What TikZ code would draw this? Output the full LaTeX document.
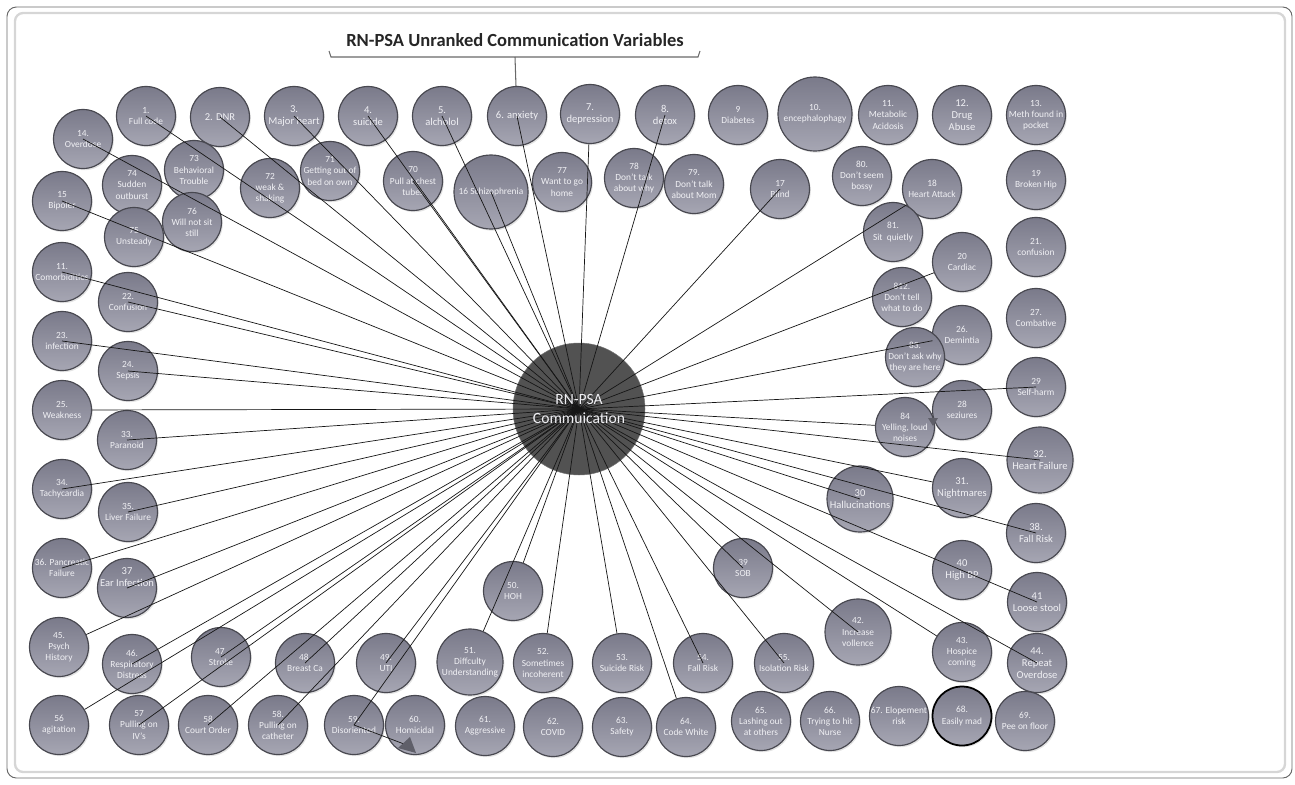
\documentclass[tikz,border=0pt]{standalone}
\usepackage{fontspec}
\setmainfont{Carlito}
\usetikzlibrary{shadows}
\definecolor{bubtop}{RGB}{122,122,138}
\definecolor{bubbot}{RGB}{166,166,179}
\definecolor{bubedge}{RGB}{72,72,80}
\definecolor{hubfill}{RGB}{82,82,82}
\definecolor{spokecol}{RGB}{22,22,22}
\definecolor{bubtext}{RGB}{240,240,244}
\definecolor{framecol}{RGB}{105,105,105}
\definecolor{frameinner}{RGB}{214,214,214}
\definecolor{tricol}{RGB}{95,95,105}
\tikzset{
  bub/.style={circle, draw=bubedge, line width=1pt, top color=bubtop, bottom color=bubbot,
    minimum size=1.77cm, inner sep=0pt,
    drop shadow={shadow xshift=0.04cm, shadow yshift=-0.05cm, opacity=0.22}},
  bubmid/.style={bub, minimum size=1.98cm},
  bubbig/.style={bub, minimum size=2.22cm},
  txt/.style={align=center, text=bubtext, font=\fontsize{8}{9.5}\selectfont, inner sep=0pt},
  txtbig/.style={txt, font=\fontsize{9}{10.5}\selectfont},
  spoke/.style={draw=spokecol, line width=0.6pt},
  hubc/.style={circle, fill=hubfill, draw=hubfill!80!white, minimum size=3.96cm, inner sep=0pt},
  hubtxt/.style={align=center, text=bubtext, font=\fontsize{13.3}{15.5}\selectfont, inner sep=0pt},
  ttl/.style={font=\fontsize{15.8}{18}\selectfont\bfseries, text=black!85, inner sep=0pt},
  brk/.style={draw=framecol, line width=0.9pt}
}
\begin{document}
\begin{tikzpicture}[x=0.03cm, y=-0.03cm]
\useasboundingbox (0,0) rectangle (1295,784);
{
% frame
\draw[framecol, line width=0.8pt, rounded corners=8] (7,7) rectangle (1292,778);
\draw[frameinner, line width=2pt, rounded corners=7] (15,13) rectangle (1285,772);

% title and bracket
\node[ttl] (title) at (515,40) {RN-PSA Unranked Communication Variables};
\coordinate (titlebar) at (515,57);
\draw[brk] (329,51) -- (331,57) -- (698,57) -- (700,51);

% top row
\node[bub, label={[txtbig]center:{2. DNR}}] (n2) at (220,117) {};
\node[bub, label={[txt]center:{1.\\Full code}}] (n1) at (146,116) {};
\node[bub, label={[txtbig]center:{3.\\Major heart}}] (n3) at (294,116) {};
\node[bub, label={[txtbig]center:{4.\\suicide}}] (n4) at (368,116) {};
\node[bub, label={[txtbig]center:{5.\\alcholol}}] (n5) at (442,116) {};
\node[bub, label={[txtbig]center:{6. anxiety}}] (n6) at (517,116) {};
\node[bub, label={[txtbig]center:{7.\\depression}}] (n7) at (590,114) {};
\node[bub, label={[txtbig]center:{8.\\detox}}] (n8) at (665,115) {};
\node[bub, label={[txt]center:{9\\Diabetes}}] (n9) at (738,115) {};
\node[bubbig, label={[txt]center:{10.\\encephalophagy}}] (n10) at (815,114) {};
\node[bub, label={[txt]center:{11.\\Metabolic\\Acidosis}}] (n11) at (888,115) {};
\node[bub, label={[txtbig]center:{12.\\Drug\\Abuse}}] (n12) at (962,115) {};
\node[bub, label={[txt]center:{13.\\Meth found in\\pocket}}] (n13) at (1036,115) {};

% second row
\node[bub, label={[txt]center:{14.\\Overdose}}] (n14) at (83,139) {};
\node[bub, label={[txt]center:{74\\Sudden\\outburst}}] (n74) at (132,185) {};
\node[bub, label={[txt]center:{73\\Behavioral\\Trouble}}] (n73) at (194,170) {};
\node[bub, label={[txt]center:{72\\weak \&\\shaking}}] (n72) at (270,188) {};
\node[bub, label={[txt]center:{71\\Getting out of\\bed on own}}] (n71) at (330,171) {};
\node[bub, label={[txt]center:{70\\Pull at chest\\tubes}}] (n70) at (413,181) {};
\node[bubbig, label={[txt]center:{16 Schizophrenia}}] (n16) at (491,192) {};
\node[bub, label={[txt]center:{77\\Want to go\\home}}] (n77) at (562,182) {};
\node[bub, label={[txt]center:{78\\Don't talk\\about why}}] (n78) at (634,178) {};
\node[bub, label={[txt]center:{79.\\Don't talk\\about Mom}}] (n79) at (694,184) {};
\node[bub, label={[txt]center:{17\\Blind}}] (n17) at (780,189) {};
\node[bub, label={[txt]center:{80.\\Don't seem\\bossy}}] (n80) at (862,176) {};
\node[bub, label={[txt]center:{18\\Heart Attack}}] (n18) at (932,189) {};
\node[bub, label={[txt]center:{19\\Broken Hip}}] (n19) at (1036,180) {};
\node[bub, label={[txt]center:{81.\\Sit\ \ quietly}}] (n81) at (893,232) {};
\node[bub, label={[txt]center:{21.\\confusion}}] (n21) at (1036,247) {};

% left side
\node[bub, label={[txt]center:{15\\Bipoler}}] (n15) at (62,201) {};
\node[bub, label={[txt]center:{75\\Unsteady}}] (n75) at (134,237) {};
\node[bub, label={[txt]center:{76\\Will not sit\\still}}] (n76) at (192,222) {};
\node[bub, label={[txt]center:{11.\\Comorbidities}}] (nb11) at (62,272) {};
\node[bub, label={[txt]center:{22.\\Confusion}}] (n22) at (128,302) {};
\node[bub, label={[txt]center:{23.\\infection}}] (n23) at (62,341) {};
\node[bub, label={[txt]center:{24.\\Sepsis}}] (n24) at (128,371) {};
\node[bub, label={[txt]center:{25.\\Weakness}}] (n25) at (62,410) {};
\node[bub, label={[txt]center:{33.\\Paranoid}}] (n33) at (127,440) {};
\node[bub, label={[txt]center:{34.\\Tachycardia}}] (n34) at (62,489) {};
\node[bub, label={[txt]center:{35.\\Liver Failure}}] (n35) at (128,512) {};
\node[bub, label={[txt]center:{36. Pancreatic\\Failure}}] (n36) at (62,568) {};
\node[bub, label={[txtbig]center:{37\\Ear Infection\\[8pt]}}] (n37) at (127,588) {};
\node[bub, label={[txt]center:{45.\\Psych\\History}}] (n45) at (59,647) {};
\node[bub, label={[txt]center:{46.\\Respiratory\\Distress}}] (n46) at (132,664) {};
\node[bub, label={[txt]center:{47.\\Stroke}}] (n47) at (221,657) {};
\node[bub, label={[txt]center:{48.\\Breast Ca}}] (n48) at (305,663) {};
\node[bub, label={[txt]center:{49.\\UTI}}] (n49) at (386,663) {};
\node[bub, label={[txt]center:{50.\\HOH}}] (n50) at (513,591) {};
\node[bubmid, label={[txt]center:{51.\\Diffculty\\Understanding}}] (n51) at (470,662) {};
\node[bub, label={[txt]center:{52.\\Sometimes\\incoherent}}] (n52) at (543,663) {};
\node[bub, label={[txt]center:{53.\\Suicide Risk}}] (n53) at (622,663) {};
\node[bub, label={[txt]center:{54.\\Fall Risk}}] (n54) at (703,663) {};
\node[bub, label={[txt]center:{55.\\Isolation Risk}}] (n55) at (784,663) {};
\node[bub, label={[txt]center:{39\\SOB}}] (n39) at (743,568) {};
\node[bubmid, label={[txt]center:{42.\\Increase\\vollence}}] (n42) at (858,632) {};
\node[bub, label={[txt]center:{43.\\Hospice\\coming}}] (n43) at (962,652) {};
\node[bub, label={[txtbig]center:{44.\\Repeat\\Overdose}}] (n44) at (1037,663) {};

% bottom row
\node[bub, label={[txt]center:{56\\agitation}}] (n56) at (59,725) {};
\node[bub, label={[txt]center:{57\\Pulling on\\IV's}}] (n57) at (139,725) {};
\node[bub, label={[txt]center:{58\\Court Order}}] (n58) at (208,725) {};
\node[bub, label={[txt]center:{58.\\Pulling on\\catheter}}] (n58b) at (278,725) {};
\node[bub, label={[txt]center:{59.\\Disoriented}}] (n59) at (354,725) {};
\node[bub, label={[txt]center:{60.\\Homicidal}}] (n60) at (415,725) {};
\node[bub, label={[txt]center:{61.\\Aggressive}}] (n61) at (485,726) {};
\node[bub, label={[txt]center:{62.\\COVID}}] (n62) at (553,727) {};
\node[bub, label={[txt]center:{63.\\Safety}}] (n63) at (622,727) {};
\node[bub, label={[txt]center:{64.\\Code White}}] (n64) at (686,727) {};
\node[bub, label={[txt]center:{65.\\Lashing out\\at others}}] (n65) at (761,721) {};
\node[bub, label={[txt]center:{66.\\Trying to hit\\Nurse}}] (n66) at (830,721) {};
\node[bub, label={[txt]center:{67. Elopement\\risk}}] (n67) at (899,716) {};
\node[bub, draw=black, line width=1.5pt, label={[txt]center:{68.\\Easily mad}}] (n68) at (962,716) {};
\node[bub, label={[txt]center:{69.\\Pee on floor}}] (n69) at (1025,721) {};

% right side
\node[bub, label={[txt]center:{20\\Cardiac}}] (n20) at (962,262) {};
\node[bub, label={[txt]center:{812.\\Don't tell\\what to do}}] (n812) at (902,297) {};
\node[bub, label={[txt]center:{26.\\Demintia}}] (n26) at (962,335) {};
\node[bub, label={[txt]center:{27.\\Combative}}] (n27) at (1036,318) {};
\node[bub, label={[txt]center:{83.\\Don't ask why\\they are here}}] (n83) at (915,357) {};
\node[bub, label={[txt]center:{29\\Self-harm}}] (n29) at (1036,387) {};
\node[bub, label={[txt]center:{28\\seziures}}] (n28) at (962,410) {};
\node[bub, label={[txt]center:{84\\Yelling, loud\\noises}}] (n84) at (905,427) {};
\node[bubmid, label={[txtbig]center:{32.\\Heart Failure}}] (n32) at (1040,460) {};
\node[bub, label={[txtbig]center:{31.\\Nightmares}}] (n31) at (962,488) {};
\node[bubmid, label={[txtbig]center:{30\\Hallucinations}}] (n30) at (860,499) {};
\node[bub, label={[txtbig]center:{38.\\Fall Risk}}] (n38) at (1036,533) {};
\node[bub, label={[txtbig]center:{40\\High BP}}] (n40) at (962,570) {};
\node[bub, label={[txtbig]center:{41\\Loose stool}}] (n41) at (1037,602) {};

% hub
\node[hubc] (hub) at (579,409) {};

% title bracket to anxiety
\draw[brk] (titlebar) -- (n6);

% spokes ending at the label
\foreach \n in {n1,n2,n3,n4,n5,n6,n8,n14,n15,nb11,n22,n23,n24,n33,n34,n35,n36,n37,n46,n47,n48,n49,
  n57,n58,n58b,n59,n54,n55,n39,n42,n44,n41,n38,n30,n32,n29,n17,n16,n70}
  \draw[spoke] (hub.center) -- (\n.center);
% spokes ending at the rim
\foreach \n in {n7,n25,n45,n56,n50,n51,n52,n53,n64,n43,n31,n84,n26,n20,n18}
  \draw[spoke] (hub.center) -- (\n);

% small marks
\coordinate (tip60) at (404,744);
\draw[spoke] (n59.center) -- (tip60);
\fill[tricol] (398,748) -- (410,737) -- (416,753) -- cycle;
\fill[tricol] (928,418) -- (938,418) -- (933,426) -- cycle;

% hub label
\node[hubtxt] (hublbl) at (hub.center) {RN-PSA\\Commuication};
}
\end{tikzpicture}
\end{document}
